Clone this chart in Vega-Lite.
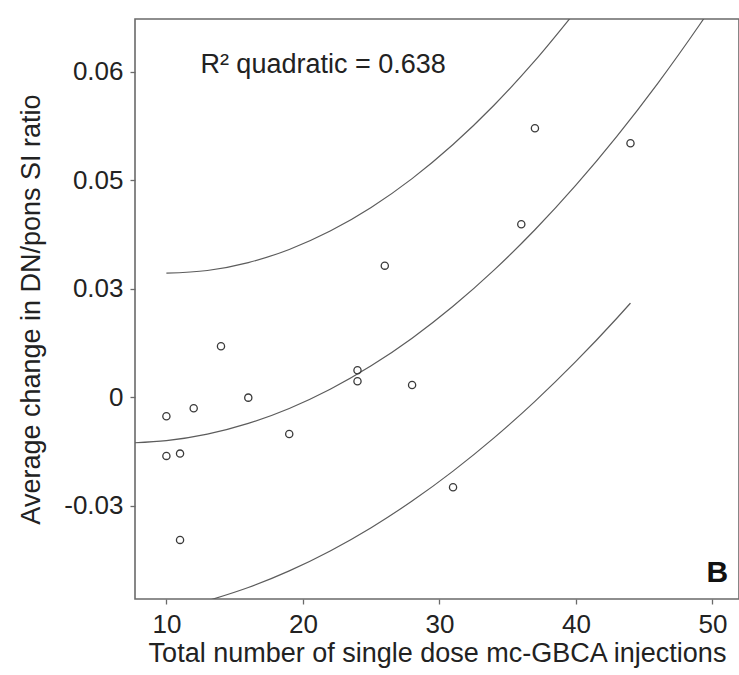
{
  "$schema": "https://vega.github.io/schema/vega-lite/v6.json",
  "autosize": {"type": "none"},
  "padding": {"left": 135, "top": 19, "right": 0, "bottom": 76},
  "width": 604,
  "height": 580,
  "background": "white",
  "config": {
    "font": "Liberation Sans",
    "view": {"stroke": "#6a6a6a", "strokeWidth": 1.6}
  },
  "datasets": {
    "points": [
      {"injections": 10, "change": -0.00525},
      {"injections": 10, "change": -0.01623},
      {"injections": 11, "change": -0.01559},
      {"injections": 11, "change": -0.03946},
      {"injections": 12, "change": -0.00304},
      {"injections": 14, "change": 0.0141},
      {"injections": 16, "change": -0.00011},
      {"injections": 19, "change": -0.01015},
      {"injections": 24, "change": 0.00747},
      {"injections": 24, "change": 0.00442},
      {"injections": 26, "change": 0.03639},
      {"injections": 28, "change": 0.0034},
      {"injections": 31, "change": -0.02488},
      {"injections": 36, "change": 0.04783},
      {"injections": 37, "change": 0.07438},
      {"injections": 44, "change": 0.07023}
    ],
    "curves": [
      {"series": "fit", "injections": 7.7, "change": -0.01259},
      {"series": "fit", "injections": 10, "change": -0.012},
      {"series": "fit", "injections": 13, "change": -0.0102},
      {"series": "fit", "injections": 16, "change": -0.00724},
      {"series": "fit", "injections": 19, "change": -0.0031},
      {"series": "fit", "injections": 22, "change": 0.00221},
      {"series": "fit", "injections": 25, "change": 0.00869},
      {"series": "fit", "injections": 28, "change": 0.01634},
      {"series": "fit", "injections": 31, "change": 0.02516},
      {"series": "fit", "injections": 34, "change": 0.03515},
      {"series": "fit", "injections": 37, "change": 0.04631},
      {"series": "fit", "injections": 40, "change": 0.05864},
      {"series": "fit", "injections": 43, "change": 0.07214},
      {"series": "fit", "injections": 46, "change": 0.08681},
      {"series": "fit", "injections": 49, "change": 0.10266},
      {"series": "fit", "injections": 49.5, "change": 0.10541},
      {"series": "upper", "injections": 10, "change": 0.0343},
      {"series": "upper", "injections": 13, "change": 0.03505},
      {"series": "upper", "injections": 16, "change": 0.03724},
      {"series": "upper", "injections": 19, "change": 0.04087},
      {"series": "upper", "injections": 22, "change": 0.04596},
      {"series": "upper", "injections": 25, "change": 0.05249},
      {"series": "upper", "injections": 28, "change": 0.06046},
      {"series": "upper", "injections": 31, "change": 0.06988},
      {"series": "upper", "injections": 34, "change": 0.08074},
      {"series": "upper", "injections": 37, "change": 0.09306},
      {"series": "upper", "injections": 40, "change": 0.10681},
      {"series": "lower", "injections": 13.2, "change": -0.05607},
      {"series": "lower", "injections": 16, "change": -0.05262},
      {"series": "lower", "injections": 19, "change": -0.04801},
      {"series": "lower", "injections": 22, "change": -0.0425},
      {"series": "lower", "injections": 25, "change": -0.03607},
      {"series": "lower", "injections": 28, "change": -0.02871},
      {"series": "lower", "injections": 31, "change": -0.02044},
      {"series": "lower", "injections": 34, "change": -0.01125},
      {"series": "lower", "injections": 37, "change": -0.00113},
      {"series": "lower", "injections": 40, "change": 0.0099},
      {"series": "lower", "injections": 43, "change": 0.02185},
      {"series": "lower", "injections": 44, "change": 0.02604}
    ],
    "labels": [
      {"injections": 12.49, "change": 0.0897, "text": "R² quadratic = 0.638", "kind": "r2"},
      {"injections": 51.15, "change": -0.05107, "text": "B", "kind": "panel"}
    ]
  },
  "encoding": {
    "x": {
      "field": "injections", "type": "quantitative",
      "scale": {"domain": [7.7, 51.95], "nice": false, "zero": false},
      "axis": {
        "title": "Total number of single dose mc-GBCA injections",
        "values": [10, 20, 30, 40, 50],
        "grid": false, "domain": false,
        "tickColor": "#6a6a6a", "tickSize": 5, "tickWidth": 1.3,
        "labelFont": "Liberation Sans", "labelFontSize": 26, "labelColor": "#222", "labelPadding": 7,
        "titleFont": "Liberation Sans", "titleFontSize": 27, "titleFontWeight": "normal", "titleColor": "#222", "titlePadding": 3
      }
    },
    "y": {
      "field": "change", "type": "quantitative",
      "scale": {"domain": [-0.0558, 0.1046], "nice": false, "zero": false},
      "axis": {
        "title": "Average change in DN/pons SI ratio",
        "values": [0.09, 0.06, 0.03, 0, -0.03],
        "labelExpr": "datum.value > 0.08 ? '0.06' : datum.value > 0.05 ? '0.05' : datum.value > 0.02 ? '0.03' : datum.value > -0.01 ? '0' : '-0.03'",
        "grid": false, "domain": false,
        "tickColor": "#6a6a6a", "tickSize": 5, "tickWidth": 1.3,
        "labelFont": "Liberation Sans", "labelFontSize": 26, "labelColor": "#222", "labelPadding": 7,
        "titleFont": "Liberation Sans", "titleFontSize": 27, "titleFontWeight": "normal", "titleColor": "#222", "titlePadding": 18
      }
    }
  },
  "layer": [
    {
      "data": {"name": "curves"},
      "mark": {"type": "line", "stroke": "#5c5c5c", "strokeWidth": 1.2, "interpolate": "monotone", "clip": true},
      "encoding": {"detail": {"field": "series"}}
    },
    {
      "data": {"name": "points"},
      "mark": {"type": "point", "shape": "circle", "filled": false, "size": 52, "stroke": "#3a3a3a", "strokeWidth": 1.3, "opacity": 1},
      "encoding": {}
    },
    {
      "data": {"name": "labels"},
      "transform": [{"filter": "datum.kind == 'r2'"}],
      "mark": {"type": "text", "align": "left", "baseline": "alphabetic", "font": "Liberation Sans", "fontSize": 27, "color": "#222"},
      "encoding": {"text": {"field": "text"}}
    },
    {
      "data": {"name": "labels"},
      "transform": [{"filter": "datum.kind == 'panel'"}],
      "mark": {"type": "text", "align": "right", "baseline": "alphabetic", "font": "Liberation Sans", "fontSize": 30, "fontWeight": "bold", "color": "#111"},
      "encoding": {"text": {"field": "text"}}
    }
  ]
}
